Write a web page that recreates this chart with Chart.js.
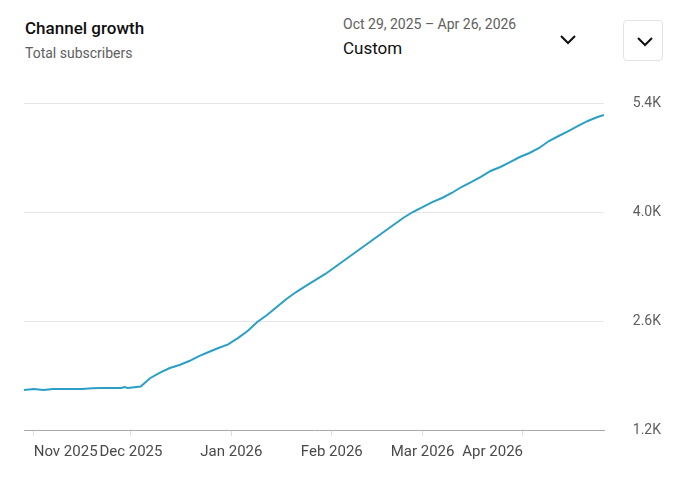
<!DOCTYPE html>
<html>
<head>
<meta charset="utf-8">
<script src="https://cdn.jsdelivr.net/npm/chart.js@4.4.1/dist/chart.umd.min.js"></script>
<style>
  html, body { margin: 0; padding: 0; background: #fff; }
  body { width: 680px; height: 486px; position: relative; overflow: hidden; font-family: Roboto, "Noto Sans", sans-serif; }
  .title { position: absolute; left: 25px; top: 18px; font-size: 17px; font-weight: 500; color: #0f0f0f; }
  .subtitle { position: absolute; left: 25px; top: 45px; font-size: 14px; color: #606060; }
  .range { position: absolute; left: 343px; top: 16px; font-size: 14px; color: #606060; }
  .custom { position: absolute; left: 343px; top: 38px; font-size: 17px; color: #0f0f0f; }
  .chev { position: absolute; }
  .btn { position: absolute; left: 623px; top: 20px; width: 40px; height: 41px; border: 1px solid #e3e3e3; border-radius: 4px; box-sizing: border-box; }
  #wrap { position: absolute; left: 0; top: 90px; width: 680px; height: 396px; }
</style>
</head>
<body>
<div class="title">Channel growth</div>
<div class="subtitle">Total subscribers</div>
<div class="range">Oct 29, 2025 – Apr 26, 2026</div>
<div class="custom">Custom</div>
<svg class="chev" style="left:559px;top:34px" width="18" height="12"><polyline points="2,2 9,9 16,2" fill="none" stroke="#0f0f0f" stroke-width="2"/></svg>
<div class="btn"></div>
<svg class="chev" style="left:636px;top:36px" width="18" height="12"><polyline points="2,2 9,9 16,2" fill="none" stroke="#0f0f0f" stroke-width="2"/></svg>
<div id="wrap"><canvas id="chart"></canvas></div>
<script>
// day index from Oct 29, 2025
const days = [0, 3, 6, 9, 12, 15, 18, 21, 24, 27, 30, 31, 32, 36, 39, 42, 45, 48, 51, 54, 57, 60,
  63, 66, 69, 72, 75, 78, 81, 84, 87, 90, 93, 96, 99, 102, 105, 108, 111, 114, 117, 120,
  123, 126, 129, 132, 135, 138, 141, 144, 147, 150, 153, 156, 159, 162, 165, 168, 171, 174, 177, 179];
const subs = [1714, 1727, 1714, 1727, 1727, 1727, 1727, 1736, 1739, 1739, 1739, 1752, 1739, 1759, 1868, 1938, 1996, 2035, 2086, 2150, 2202, 2253,
  2300, 2380, 2472, 2587, 2677, 2780, 2883, 2972, 3050, 3127, 3204, 3294, 3383, 3473, 3563, 3653, 3743, 3833, 3923, 4000,
  4064, 4128, 4180, 4244, 4321, 4385, 4450, 4527, 4578, 4642, 4706, 4758, 4822, 4912, 4976, 5040, 5105, 5169, 5220, 5246];
const monthDays = [3, 33, 64, 95, 123, 154];
const monthLabels = ['Nov 2025', 'Dec 2025', 'Jan 2026', 'Feb 2026', 'Mar 2026', 'Apr 2026'];
const yTicks = [1200, 2600, 4000, 5400];

const points = days.map((d, i) => ({ x: d, y: subs[i] }));

new Chart(document.getElementById('chart'), {
  type: 'line',
  data: {
    datasets: [{
      data: points,
      borderColor: '#2b9fc6',
      borderWidth: 2,
      pointRadius: 0,
      tension: 0,
      fill: false
    }]
  },
  options: {
    responsive: true,
    maintainAspectRatio: false,
    animation: false,
    layout: { padding: { top: 13, right: 19, left: 24, bottom: 0 } },
    plugins: { legend: { display: false }, tooltip: { enabled: false } },
    scales: {
      x: {
        type: 'linear',
        min: 0,
        max: 179,
        afterBuildTicks: (scale) => { scale.ticks = monthDays.map(v => ({ value: v })); },
        afterFit: (scale) => { scale.height = 56; },
        ticks: {
          autoSkip: false,
          maxRotation: 0,
          align: 'inner',
          padding: 7,
          color: '#4a4a4a',
          font: { family: 'Roboto', size: 15 },
          callback: (v) => monthLabels[monthDays.indexOf(v)]
        },
        grid: { drawOnChartArea: false, drawTicks: true, tickLength: 6, color: '#dedede' },
        border: { display: true, color: '#aaaaaa', width: 1 }
      },
      y: {
        position: 'right',
        min: 1200,
        max: 5400,
        afterBuildTicks: (scale) => { scale.ticks = yTicks.map(v => ({ value: v })); },
        afterFit: (scale) => { scale.width = 57; },
        ticks: {
          crossAlign: 'far',
          color: '#606060',
          font: { family: 'Roboto', size: 14 },
          callback: (v) => (v / 1000).toFixed(1) + 'K'
        },
        grid: {
          drawTicks: false,
          color: (ctx) => ctx.tick && ctx.tick.value === 1200 ? 'rgba(0,0,0,0)' : '#e6e6e6'
        },
        border: { display: false }
      }
    }
  }
});
</script>
</body>
</html>
